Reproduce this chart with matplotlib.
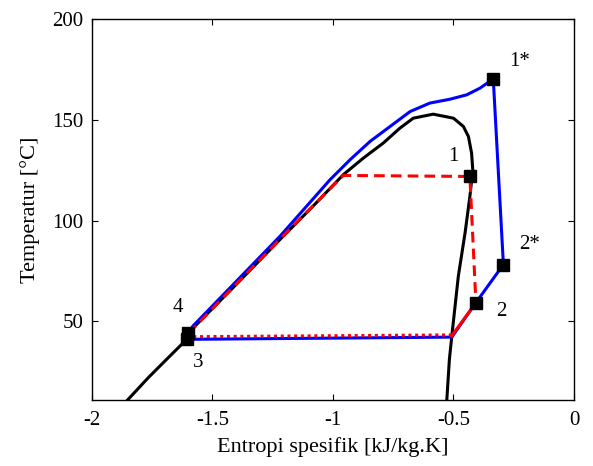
import matplotlib
matplotlib.use("Agg")
import matplotlib.pyplot as plt

plt.rcParams['font.family'] = ['Liberation Serif', 'DejaVu Serif']

# Saturation dome (black)
dome_s = [-1.856, -1.766, -1.690, -1.621, -1.586, -1.40, -1.22, -1.08, -0.957,
          -0.874, -0.791, -0.722, -0.667, -0.584, -0.500, -0.459, -0.438, -0.425,
          -0.420, -0.432, -0.452, -0.480, -0.507, -0.517, -0.528]
dome_T = [10.5, 22.1, 31.2, 39.4, 46.0, 68.5, 90.6, 107.5, 122.8,
          131.0, 138.5, 145.9, 150.8, 152.8, 150.8, 146.7, 141.7, 133.5,
          125.2, 112.0, 93.9, 72.4, 42.7, 31.2, 10.5]

# Real cycle (blue): 3 -> evap -> 2 -> 2* -> 1* -> condensation -> 4 -> 3
blue_s = [-1.603, -0.507, -0.407, -0.293, -0.335, -0.390, -0.445, -0.515, -0.598,
          -0.680, -0.763, -0.846, -0.929, -1.012, -1.22, -1.40, -1.58, -1.600, -1.603]
blue_T = [41.1, 42.2, 59.3, 78.2, 170.3, 165.7, 162.4, 160.2, 158.3,
          154.1, 146.7, 139.3, 130.2, 120.3, 92.2, 70.0, 47.8, 44.5, 41.1]

# Ideal cycle (red) dashed: 4 -> liquid line -> 1 -> 2
red_dash_s = [-1.600, -1.22, -0.957, -0.432, -0.407]
red_dash_T = [44.0, 90.8, 122.4, 121.9, 59.3]
# red solid 2 -> saturated vapour
red_solid_s = [-0.407, -0.507]
red_solid_T = [59.3, 42.9]
# red dotted evaporation
red_dot_s = [-0.507, -1.600]
red_dot_T = [43.3, 42.4]

# Marked state points
pt_s = [-0.335, -0.293, -0.432, -0.407, -1.600, -1.605]
pt_T = [170.3, 78.2, 121.9, 59.3, 44.0, 41.3]
lab_txt = ['1*', '2*', '1', '2', '4', '3']
lab_s = [-0.224, -0.183, -0.50, -0.30, -1.642, -1.559]
lab_T = [178.9, 88.0, 131.8, 55.0, 56.8, 29.6]

fig = plt.figure(figsize=(5.93, 4.66), dpi=100)
ax = fig.add_axes([0.155, 0.1416, 0.813, 0.8176])

ax.plot(dome_s, dome_T, color='black', lw=2.2)
ax.plot(blue_s, blue_T, color='blue', lw=2.2)
ax.plot(red_dash_s, red_dash_T, color='red', lw=2.2, ls=(0, (3.5, 2)))
ax.plot(red_solid_s, red_solid_T, color='red', lw=2.2)
ax.plot(red_dot_s, red_dot_T, color='red', lw=2.2, ls=(0, (1, 1.2)))
ax.plot(pt_s, pt_T, ls='none', marker='s', color='black', markersize=9)

for t, x, y in zip(lab_txt, lab_s, lab_T):
    ax.text(x, y, t, fontsize=15, ha='center', va='center')

ax.set_xlim(-2, 0)
ax.set_ylim(11, 200)
ax.set_xticks([-2, -1.5, -1, -0.5, 0])
ax.set_xticklabels(['-2', '-1.5', '-1', '-0.5', '0'])
ax.set_yticks([50, 100, 150, 200])
ax.tick_params(direction='in', top=True, right=True, labelsize=15, length=4)
ax.tick_params(axis='x', pad=8)
ax.tick_params(axis='y', pad=6)
for sp in ax.spines.values():
    sp.set_linewidth(1.0)
ax.set_xlabel('Entropi spesifik [kJ/kg.K]', fontsize=16, labelpad=5)
ax.set_ylabel('Temperatur [°C]', fontsize=16, labelpad=9)

fig.savefig('out.png', dpi=100)
